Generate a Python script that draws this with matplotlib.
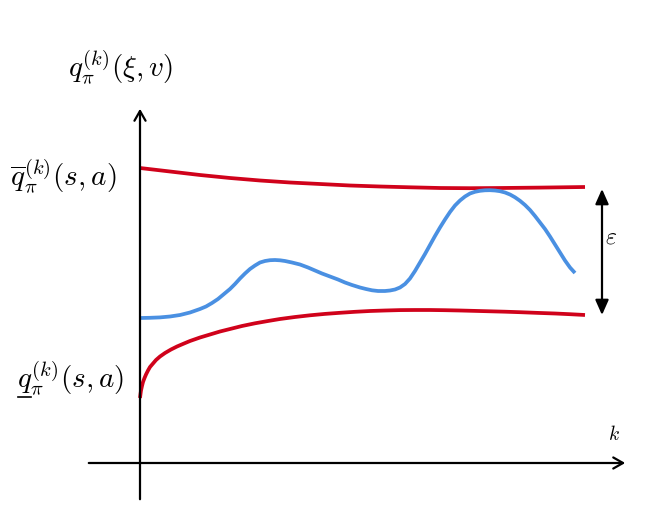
import matplotlib.pyplot as plt
import numpy as np

plt.rcParams["mathtext.fontset"] = "cm"

# curve control points in picture pixel coordinates (x, y from top)
upper_x = [140, 170, 200, 230, 260, 290, 320, 350, 380, 410, 440, 470, 500, 540, 585]
upper_y = [168, 171.5, 175, 178, 180.5, 182.5, 184, 185.5, 186.5, 187.3, 188, 188.2, 188, 187.6, 187]

lower_x = [140, 140.5, 141, 142, 143, 144.5, 146, 148, 150, 153, 156, 160, 165, 171, 177, 184, 190, 200, 210, 220, 230, 242, 255, 268, 280, 295, 310, 325, 340, 355, 370, 385, 400, 415, 430, 445, 460, 475, 490, 505, 520, 538, 555, 570, 585]
lower_y = [398, 394, 390.5, 386, 382, 378, 374.5, 370.5, 367, 363.5, 360, 356.5, 353, 349.5, 346.5, 343.5, 341, 337.5, 334.5, 331.5, 329, 326, 323.3, 321, 319, 317, 315.3, 313.9, 312.8, 311.8, 311, 310.5, 310.1, 310, 310, 310.2, 310.5, 310.9, 311.3, 311.7, 312.2, 312.9, 313.5, 314.2, 315]

blue_x = [140, 150, 160, 170, 180, 190, 200, 206, 212, 218, 224, 230, 235, 240, 245, 250, 255, 260, 265, 270, 275, 280, 285, 292, 300, 308, 315, 322, 330, 338, 345, 352, 360, 366, 372, 378, 385, 390, 395, 400, 405, 410, 415, 420, 425, 430, 435, 440, 445, 450, 455, 460, 465, 470, 475, 480, 485, 490, 495, 500, 505, 510, 515, 520, 525, 530, 535, 540, 545, 550, 555, 560, 565, 570, 575]
blue_y = [318, 317.8, 317.4, 316.5, 315, 312.5, 309, 306.5, 303, 299, 294, 289, 284, 278.5, 273.5, 269, 265.5, 262.5, 261, 260.2, 260, 260.3, 261, 262.5, 264.5, 267.5, 270.5, 273.5, 276.5, 279.5, 282.5, 285, 287.5, 289, 290.3, 291, 291, 290.5, 289.5, 287.5, 284, 278.5, 271, 262.5, 254, 245, 236, 227.5, 219.5, 212, 205.5, 200.5, 196.5, 193.5, 191.8, 190.8, 190.3, 190.2, 190.5, 191.2, 192.5, 194.5, 197.3, 200.8, 205, 210, 216, 222.5, 229, 236.5, 244.5, 252.5, 260.5, 267.5, 273]

red = "#d0021b"
blue = "#4a90e2"

fig = plt.figure(figsize=(6.49, 5.21), dpi=100)
ax = fig.add_axes([0, 0, 1, 1])
ax.set_xlim(0, 649)
ax.set_ylim(521, 0)
ax.axis("off")

# axes arrows
ax.annotate("", xy=(140, 106), xytext=(140, 502),
            arrowprops=dict(arrowstyle="->,head_length=0.7,head_width=0.4", lw=1.6, color="black"))
ax.annotate("", xy=(628, 463), xytext=(86, 463),
            arrowprops=dict(arrowstyle="->,head_length=0.7,head_width=0.4", lw=1.6, color="black"))

ax.plot(upper_x, upper_y, color=red, lw=2.7, solid_capstyle="butt")
ax.plot(lower_x, lower_y, color=red, lw=2.7, solid_capstyle="butt")
ax.plot(blue_x, blue_y, color=blue, lw=2.7, solid_capstyle="butt")

# epsilon gap arrow
ax.annotate("", xy=(602, 189), xytext=(602, 315),
            arrowprops=dict(arrowstyle="<|-|>,head_length=0.9,head_width=0.4", lw=1.6,
                            color="black", shrinkA=0, shrinkB=0))
ax.text(605, 237, r"$\varepsilon$", fontsize=17, ha="left", va="center")

ax.text(68, 67, r"$q_\pi^{(k)}(\xi, v)$", fontsize=21, ha="left", va="center")
ax.text(10, 176, r"$\overline{q}_\pi^{(k)}(s, a)$", fontsize=21, ha="left", va="center")
ax.text(17, 378, r"$q_\pi^{(k)}(s, a)$", fontsize=21, ha="left", va="center")
ax.plot([18, 31], [397, 397], color="black", lw=1.2)
ax.text(614, 435, r"$k$", fontsize=14, ha="center", va="center")

fig.savefig("out.png", dpi=100)
